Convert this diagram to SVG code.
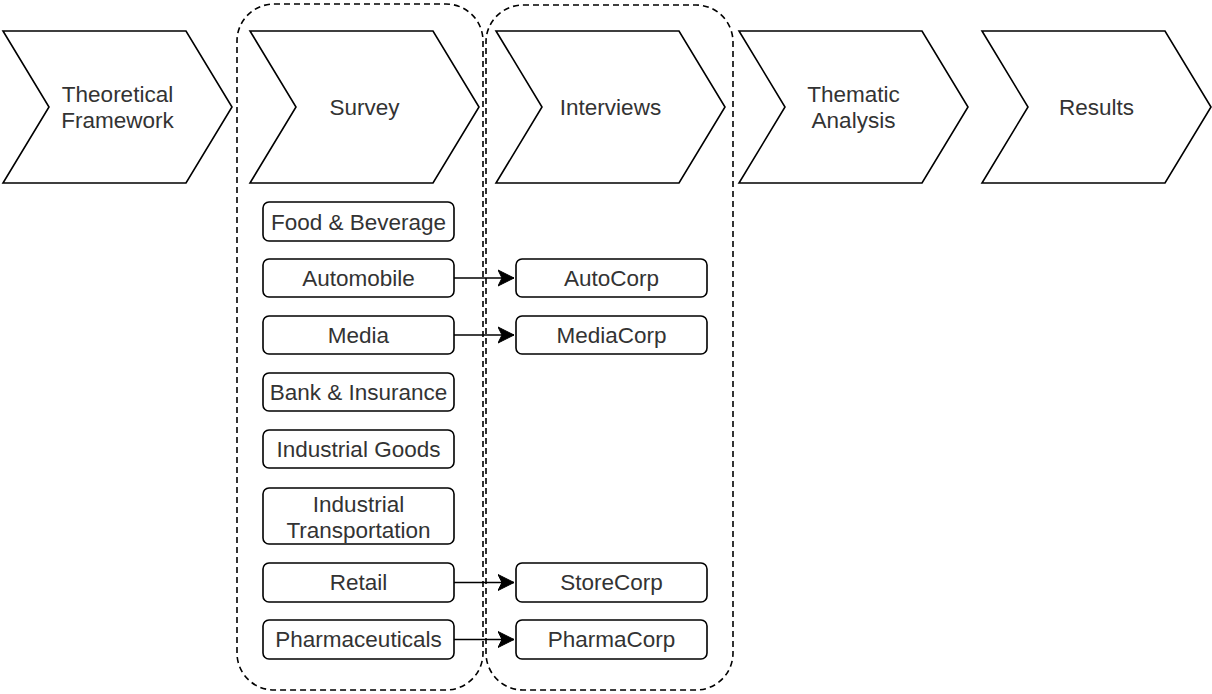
<svg xmlns="http://www.w3.org/2000/svg" width="1212" height="694" viewBox="0 0 1212 694">
<defs>
<style>
.chev{fill:#fff;stroke:#000;stroke-width:1.6;stroke-linejoin:miter}
.box{fill:#fff;stroke:#000;stroke-width:1.6}
.grp{fill:none;stroke:#000;stroke-width:1.6;stroke-dasharray:6 4}
.t{font-family:"Liberation Sans",Arial,sans-serif;font-size:22.5px;fill:#333;text-anchor:middle}
.edge{fill:none;stroke:#000;stroke-width:1.6}
</style>
<marker id="arr" markerUnits="userSpaceOnUse" markerWidth="18" markerHeight="18" viewBox="0 0 18 18" refX="16" refY="9" orient="auto">
<path d="M16,9 L0,1 L4,9 L0,17 Z" fill="#000" stroke="#000" stroke-width="1"/>
</marker>
</defs>
<rect width="1212" height="694" fill="#fff"/>
<g id="group-survey"><rect class="grp" x="237" y="4" width="246" height="686" rx="37" ry="37"/></g>
<g id="group-interviews"><rect class="grp" x="486" y="5" width="247" height="685" rx="37" ry="37"/></g>

<g id="step-theoretical">
<polygon class="chev" points="3,31 186,31 232,107 186,183 3,183 49,107"/>
<text class="t" x="117.5" y="102">Theoretical</text>
<text class="t" x="117.5" y="128">Framework</text>
</g>
<g id="step-survey">
<polygon class="chev" points="250,31 433,31 479,107 433,183 250,183 296,107"/>
<text class="t" x="364.5" y="115">Survey</text>
</g>
<g id="step-interviews">
<polygon class="chev" points="496,31 679,31 725,107 679,183 496,183 542,107"/>
<text class="t" x="610.5" y="115">Interviews</text>
</g>
<g id="step-thematic">
<polygon class="chev" points="739,31 922,31 968,107 922,183 739,183 785,107"/>
<text class="t" x="853.5" y="102">Thematic</text>
<text class="t" x="853.5" y="128">Analysis</text>
</g>
<g id="step-results">
<polygon class="chev" points="982,31 1165,31 1211,107 1165,183 982,183 1028,107"/>
<text class="t" x="1096.5" y="115">Results</text>
</g>

<g id="food"><rect class="box" x="263" y="202" width="191" height="39" rx="6"/><text class="t" x="358.5" y="229.5">Food &amp; Beverage</text></g>
<g id="automobile"><rect class="box" x="263" y="259" width="191" height="38" rx="6"/><text class="t" x="358.5" y="286">Automobile</text></g>
<g id="media"><rect class="box" x="263" y="316" width="191" height="38" rx="6"/><text class="t" x="358.5" y="343">Media</text></g>
<g id="bank"><rect class="box" x="263" y="373" width="191" height="38" rx="6"/><text class="t" x="358.5" y="400">Bank &amp; Insurance</text></g>
<g id="industrial-goods"><rect class="box" x="263" y="430" width="191" height="38" rx="6"/><text class="t" x="358.5" y="457">Industrial Goods</text></g>
<g id="industrial-transport"><rect class="box" x="263" y="488" width="191" height="56" rx="6"/><text class="t" x="358.5" y="512">Industrial</text><text class="t" x="358.5" y="538">Transportation</text></g>
<g id="retail"><rect class="box" x="263" y="563" width="191" height="39" rx="6"/><text class="t" x="358.5" y="590">Retail</text></g>
<g id="pharma"><rect class="box" x="263" y="620" width="191" height="39" rx="6"/><text class="t" x="358.5" y="647">Pharmaceuticals</text></g>

<g id="autocorp"><rect class="box" x="516" y="259" width="191" height="38" rx="6"/><text class="t" x="611.5" y="286">AutoCorp</text></g>
<g id="mediacorp"><rect class="box" x="516" y="316" width="191" height="38" rx="6"/><text class="t" x="611.5" y="343">MediaCorp</text></g>
<g id="storecorp"><rect class="box" x="516" y="563" width="191" height="39" rx="6"/><text class="t" x="611.5" y="590">StoreCorp</text></g>
<g id="pharmacorp"><rect class="box" x="516" y="620" width="191" height="39" rx="6"/><text class="t" x="611.5" y="647">PharmaCorp</text></g>

<g id="connectors">
<path class="edge" d="M454,278 L514,278" marker-end="url(#arr)"/>
<path class="edge" d="M454,335 L514,335" marker-end="url(#arr)"/>
<path class="edge" d="M454,582.5 L514,582.5" marker-end="url(#arr)"/>
<path class="edge" d="M454,639.5 L514,639.5" marker-end="url(#arr)"/>
</g>
</svg>
